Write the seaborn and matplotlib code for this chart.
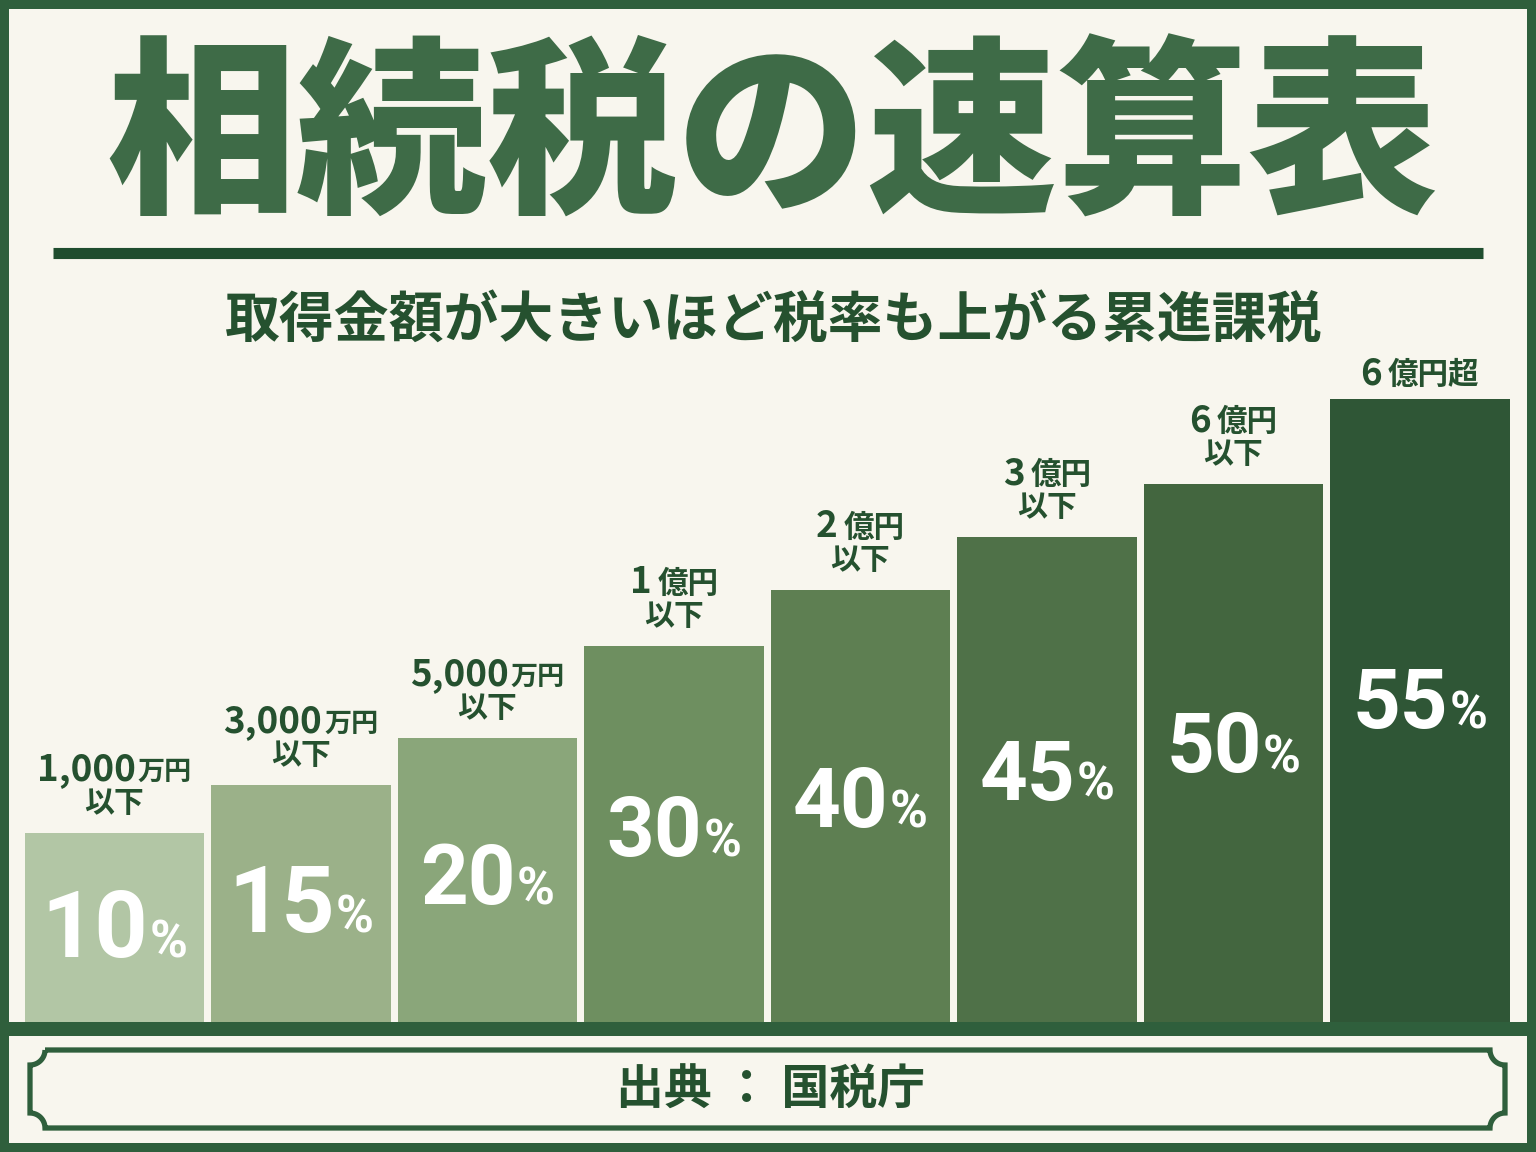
import numpy as np
import pandas as pd
import seaborn as sns
import matplotlib.pyplot as plt
from matplotlib.patches import Rectangle, PathPatch
from matplotlib.path import Path
from matplotlib.transforms import ScaledTranslation

# data
brackets = ["1,000万円以下", "3,000万円以下", "5,000万円以下", "1億円以下",
            "2億円以下", "3億円以下", "6億円以下", "6億円超"]
range_num = ["1,000", "3,000", "5,000", "1", "2", "3", "6", "6"]
range_unit = ["万円", "万円", "万円", "億円", "億円", "億円", "億円", "億円超"]
range_note = ["以下", "以下", "以下", "以下", "以下", "以下", "以下", ""]
tax_rates = [10, 15, 20, 30, 40, 45, 50, 55]
# drawn bar heights (the bars are a staircase, not proportional to the rate)
bar_heights = [189, 237, 284, 376, 432, 485, 538, 623]

bar_colors = ["#b2c6a5", "#9bb189", "#8aa67a", "#6e8f60",
              "#5e7f52", "#4f7148", "#43663f", "#2f5636"]

CREAM = "#f8f6ee"
FRAME = "#2f5f3c"
TEXT = "#25512f"

sns.set_theme(style="white")
plt.rcParams['font.family'] = ['Noto Sans CJK JP', 'DejaVu Sans']

W, H = 1536, 1152
fig = plt.figure(figsize=(W / 100, H / 100), dpi=100)
fig.patch.set_facecolor(CREAM)

# background layer in pixel coordinates
bg = fig.add_axes([0, 0, 1, 1])
bg.set_xlim(0, W)
bg.set_ylim(H, 0)
bg.axis('off')
bg.set_facecolor(CREAM)

for x, y, w, h in [(0, 0, 9, H), (W - 9, 0, 9, H), (0, 0, W, 9),
                   (0, H - 9, W, 9), (0, 1022, W, 14)]:
    bg.add_patch(Rectangle((x, y), w, h, color=FRAME, lw=0, zorder=3))

# title + rule
bg.text(772, 142, "相続税の速算表", fontsize=137, fontweight='black',
        color="#3e6b47", ha='center', va='center')
bg.plot([53, 1483], [252.5, 252.5], color="#1f4d2e", lw=8, solid_capstyle='butt')
bg.text(774, 320, "取得金額が大きいほど税率も上がる累進課税", fontsize=39.5,
        fontweight='bold', color=TEXT, ha='center', va='center')

# footer frame with concave corners
x0, x1, y0, y1, r = 30, 1505, 1050, 1128, 15


def arc(cx, cy, a0, a1):
    t = np.radians(np.linspace(a0, a1, 20))
    return np.column_stack([cx + r * np.cos(t), cy + r * np.sin(t)])


pts = np.vstack([
    [[x0 + r, y0]], arc(x1, y0, 180, 90),
    arc(x1, y1, -90, -180),
    arc(x0, y1, 0, -90),
    arc(x0, y0, 90, 0),
])
bg.add_patch(PathPatch(Path(pts), fill=False, ec=FRAME, lw=3.8, zorder=3))
bg.text(771, 1090, "出典 ： 国税庁", fontsize=34.5, fontweight='bold',
        color=TEXT, ha='center', va='center')

# bar chart
ax = fig.add_axes([21.25 / W, (H - 1022) / H, 1492 / W, 700 / H])
ax.patch.set_alpha(0)
df = pd.DataFrame({"bracket": brackets, "height": bar_heights})
sns.barplot(data=df, x="bracket", y="height", hue="bracket", palette=bar_colors,
            saturation=1, width=0.96, linewidth=0, legend=False, ax=ax)
ax.set_xlim(-0.5, 7.5)
ax.set_ylim(0, 700)
ax.axis('off')

renderer = fig.canvas.get_renderer()


def pair_text(x, y, big, small, big_kw, small_kw, gap):
    a = ax.text(x, y, big, ha='left', va='baseline', **big_kw)
    b = ax.text(x, y, small, ha='left', va='baseline', **small_kw)
    wa = a.get_window_extent(renderer).width
    wb = b.get_window_extent(renderer).width
    start = -(wa + gap + wb) / 2
    a.set_transform(ax.transData + ScaledTranslation(start / fig.dpi, 0, fig.dpi_scale_trans))
    b.set_transform(ax.transData + ScaledTranslation((start + wa + gap) / fig.dpi, 0,
                                                     fig.dpi_scale_trans))


pct_font = ['Roboto', 'DejaVu Sans']
for i, (h, rate) in enumerate(zip(bar_heights, tax_rates)):
    big = 67 if i < 2 else 60
    base = h * 0.52 - big * 0.5
    pair_text(i, base, str(rate), "%",
              dict(fontsize=big, fontweight='bold', color='white', family=pct_font),
              dict(fontsize=37, fontweight='bold', color='white', family=pct_font), 1)

    unit_size = 19.5 if "万" in range_unit[i] else 22
    gap = 2 if "万" in range_unit[i] else 6
    if range_note[i]:
        first = h + 53
        ax.text(i, h + 30, range_note[i], fontsize=21.5, fontweight='bold', color=TEXT,
                ha='center', va='center')
    else:
        first = h + 15
    pair_text(i, first, range_num[i], range_unit[i],
              dict(fontsize=26.5, fontweight='bold', color=TEXT),
              dict(fontsize=unit_size, fontweight='bold', color=TEXT), gap)

fig.savefig("out.png", dpi=100, facecolor=CREAM)
